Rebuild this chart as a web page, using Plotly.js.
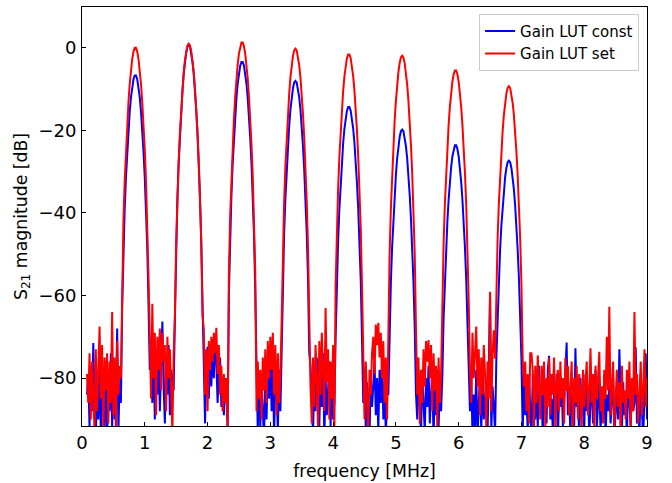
<!DOCTYPE html>
<html>
<head>
<meta charset="utf-8">
<script src="https://cdn.plot.ly/plotly-3.0.1.min.js"></script>
<style>html,body{margin:0;padding:0;background:#fff;}#chart{width:672px;height:483px;}</style>
</head>
<body>
<div id="chart"></div>
<script>
// Frequency sampling grid (MHz)
const freqStart = 0.08;
const freqStep = 0.02;

// ---- Gain LUT const (blue), segment by segment ----
const blueA = [-84,-79,-92,-77,-88,-71.5,-86,-95,-80,-90,-75,-94,-82,-78,-92,-76,-95,-80,-88,-74,-92,-78,-90,-84,-68,-93,-80,-86];
const blueP1 = [-62.6,-48.6,-39.1,-31.4,-25.2,-19.9,-15.5,-12.0,-9.4,-7.6,-6.7,-6.7,-7.6,-9.4,-12.0,-15.5,-19.9,-25.2,-31.4,-39.1,-48.6,-62.6];
const blueB = [-78,-72,-86,-74,-90,-79,-84,-73,-88,-77,-66.3,-82,-91,-75,-84,-72,-89,-78,-80,-83];
const blueP2 = [-65.3,-47.3,-36.3,-27.8,-20.9,-15.1,-10.3,-6.3,-3.3,-1.1,0.3,0.7,0.3,-1.1,-3.3,-6.3,-10.3,-15.1,-20.9,-27.8,-36.3,-47.3,-65.3];
const blueC = [-80,-91,-77,-72.4,-85,-74,-82,-73,-80,-72,-76,-86,-78,-75,-87,-82,-89,-80,-84,-92];
const blueP3 = [-59.3,-45.3,-35.8,-28.1,-21.9,-16.6,-12.2,-8.7,-6.1,-4.3,-3.4,-3.4,-4.3,-6.1,-8.7,-12.2,-16.6,-21.9,-28.1,-35.8,-45.3,-59.3];
const blueD = [-82,-93,-79,-92,-81,-87,-95,-78,-90,-76,-85,-74,-88,-77,-94,-80,-83,-93,-78,-88];
const blueP4 = [-74.0,-56.0,-45.0,-36.5,-29.6,-23.8,-19.0,-15.0,-12.0,-9.8,-8.4,-8.0,-8.4,-9.8,-12.0,-15.0,-19.0,-23.8,-29.6,-36.5,-45.0,-56.0,-74.0];
const blueE = [-77,-85,-94,-79,-88,-75,-83,-92,-78,-87,-74,-95,-80,-89,-83,-76,-92,-79,-90,-86];
const blueP5 = [-70.2,-56.2,-46.7,-39.0,-32.8,-27.5,-23.1,-19.6,-17.0,-15.2,-14.3,-14.3,-15.2,-17.0,-19.6,-23.1,-27.5,-32.8,-39.0,-46.7,-56.2,-70.2];
const blueF = [-86,-78,-92,-81,-88,-95,-79,-87,-82,-76,-89,-80,-93,-78,-86,-75,-90,-81,-94,-84];
const blueP6 = [-83.9,-67.8,-56.8,-48.3,-41.4,-35.6,-30.8,-26.8,-23.8,-21.6,-20.2,-19.8,-20.2,-21.6,-23.8,-26.8,-30.8,-35.6,-41.4,-48.3,-56.8,-67.8,-83.9];
const blueG = [-90,-82,-86,-94,-79,-88,-93,-80,-87,-77,-91,-84,-79,-95,-81,-89,-78,-92,-83,-88];
const blueP7 = [-79.5,-65.5,-56.0,-48.3,-42.1,-36.8,-32.4,-28.9,-26.3,-24.5,-23.6,-23.6,-24.5,-26.3,-28.9,-32.4,-36.8,-42.1,-48.3,-56.0,-65.5,-79.5];
const blueH = [-88,-79,-94,-84,-92,-78,-95,-86,-80,-93,-77,-90,-85,-81,-94,-79,-59.5,-93,-82,-87];
const blueP8 = [-93.3,-75.3,-64.3,-55.8,-48.9,-43.1,-38.3,-34.3,-31.3,-29.1,-27.7,-27.3,-27.7,-29.1,-31.3,-34.3,-38.3,-43.1,-48.9,-55.8,-64.3,-75.3,-93.3];
const blueI = [
  -78,-89,-84,-93,-80,-87,-95,-79,-86,-90,
  -81,-92,-77,-88,-84,-94,-80,-86,-91,-78,
  -74.6,-90,-85,-93,-82,-88,-79,-95,-84,-87,
  -80,-92,-86,-78,-71.4,-89,-83,-94,-81,-88,
  -92,-72.8,-87,-83,-95,-80,-89,-85,-93,-79,
  -88,-82,-94,-86,-80,-91,-84,-78,-92,-87,
  -81,-93,-85,-89,-79,-95,-84,-88,-82,-91,
  -86,-80,-94,-88,-83,-90,-73,-85,-93,-81,
  -89,-84,-95,-79,-87,-92,-82,-88,-86,-72.5,
  -91,-85,-94,-80,-88,-95,-83,-74,-90];

// ---- Gain LUT set (red), segment by segment ----
const redA = [-79,-86,-74,-90,-76,-84,-93,-73,-88,-78,-67.5,-85,-72,-94,-75,-83,-74,-91,-76,-86,-64,-89,-75,-93,-71,-84,-77,-80];
const redP1 = [-55.9,-41.9,-32.4,-24.7,-18.5,-13.2,-8.8,-5.3,-2.7,-0.9,0,0,-0.9,-2.7,-5.3,-8.8,-13.2,-18.5,-24.7,-32.4,-41.9,-55.9];
const redB = [-70,-85,-62,-80,-69,-89,-70,-78,-68,-83,-69,-76,-72,-88,-70,-80,-73,-86,-93,-74];
const redP2 = [-65,-47,-36,-27.5,-20.6,-14.8,-10,-6,-3,-0.8,0.6,1.0,0.6,-0.8,-3,-6,-10,-14.8,-20.6,-27.5,-36,-47,-65];
const redC = [-68,-84,-73,-88,-71,-78,-70,-76,-69,-74,-67.8,-79,-72,-84,-77,-88,-79,-86,-80,-93];
const redP3 = [-54.6,-40.6,-31.1,-23.4,-17.2,-11.9,-7.5,-4.0,-1.4,0.4,1.3,1.3,0.4,-1.4,-4.0,-7.5,-11.9,-17.2,-23.4,-31.1,-40.6,-54.6];
const redD = [-88,-76,-85,-78,-90,-75,-83,-73,-86,-71,-80,-70,-78,-69,-84,-72,-89,-74,-86,-79];
const redP4 = [-66.2,-48.2,-37.2,-28.7,-21.8,-16.0,-11.2,-7.2,-4.2,-2.0,-0.6,-0.2,-0.6,-2.0,-4.2,-7.2,-11.2,-16.0,-21.8,-28.7,-37.2,-48.2,-66.2];
const redE = [-82,-91,-75,-87,-72,-80,-92,-71,-84,-69,-78,-88,-63,-81,-73,-90,-76,-85,-72,-93];
const redP5 = [-57.5,-43.5,-34.0,-26.3,-20.1,-14.8,-10.4,-6.9,-4.3,-2.5,-1.6,-1.6,-2.5,-4.3,-6.9,-10.4,-14.8,-20.1,-26.3,-34.0,-43.5,-57.5];
const redF = [-80,-90,-76,-86,-93,-78,-84,-74,-70,-79,-67,-72,-66.6,-75,-69,-80,-71,-86,-75,-90];
const redP6 = [-67.9,-49.9,-38.9,-30.4,-23.5,-17.7,-12.9,-8.9,-5.9,-3.7,-2.3,-1.9,-2.3,-3.7,-5.9,-8.9,-12.9,-17.7,-23.5,-30.4,-38.9,-49.9,-67.9];
const redG = [-84,-75,-91,-78,-86,-73,-82,-71,-76,-70.8,-80,-72,-88,-74,-83,-77,-92,-75,-86,-79];
const redP7 = [-61.4,-47.4,-37.9,-30.2,-24.0,-18.7,-14.3,-10.8,-8.2,-6.4,-5.5,-5.5,-6.4,-8.2,-10.8,-14.3,-18.7,-24.0,-30.2,-37.9,-47.4,-61.4];
const redH = [-78,-86,-69,-80,-74,-67.5,-82,-73,-89,-75,-84,-72,-79,-92,-76,-85,-59.1,-88,-74,-68.4];
const redP8 = [-75.3,-57.3,-46.3,-37.8,-30.9,-25.1,-20.3,-16.3,-13.3,-11.1,-9.7,-9.3,-9.7,-11.1,-13.3,-16.3,-20.3,-25.1,-30.9,-37.8,-46.3,-57.3,-75.3];
const redI = [
  -82,-76,-88,-79,-91,-74,-74,-78,-93,-77,
  -86,-74.5,-83,-90,-77,-84,-76,-92,-80,-87,
  -75,-89,-79,-84,-75,-93,-81,-78,-88,-76,
  -85,-80,-91,-75,-83,-77,-89,-82,-76,-94,
  -80,-86,-77,-90,-79,-84,-92,-78,-87,-81,
  -76,-89,-83,-72.8,-86,-79,-93,-77,-85,-80,
  -73.6,-88,-82,-91,-78,-85,-70,-83,-62.7,-89,
  -80,-76,-92,-84,-78,-87,-81,-94,-77,-86,
  -83,-90,-78,-85,-76,-92,-80,-88,-64,-84,
  -79,-91,-82,-76,-89,-83,-73,-87,-80];

const blueY = [].concat(blueA,blueP1,blueB,blueP2,blueC,blueP3,blueD,blueP4,blueE,blueP5,blueF,blueP6,blueG,blueP7,blueH,blueP8,blueI);
const redY = [].concat(redA,redP1,redB,redP2,redC,redP3,redD,redP4,redE,redP5,redF,redP6,redG,redP7,redH,redP8,redI);
const freqBlue = blueY.map((_, i) => +(freqStart + i * freqStep).toFixed(3));
const freqRed = redY.map((_, i) => +(freqStart + i * freqStep).toFixed(3));

const seriesNames = ['Gain LUT const', 'Gain LUT set'];
const xTicks = [0,1,2,3,4,5,6,7,8,9];
const yTicks = [0,-20,-40,-60,-80];

const font = 'DejaVu Sans, sans-serif';
const traces = [
  {x: freqBlue, y: blueY, type: 'scatter', mode: 'lines', name: seriesNames[0],
   line: {color: '#0000ff', width: 2}},
  {x: freqRed, y: redY, type: 'scatter', mode: 'lines', name: seriesNames[1],
   line: {color: '#ff0000', width: 2}}
];
const axisCommon = {
  showline: true, linecolor: '#000', linewidth: 1, mirror: true,
  ticks: 'inside', ticklen: 4, tickwidth: 1, tickcolor: '#000',
  showgrid: false, zeroline: false,
  tickfont: {family: font, size: 18, color: '#000'}
};
const layout = {
  width: 672, height: 483,
  margin: {l: 82, r: 25, t: 7, b: 57},
  paper_bgcolor: '#fff', plot_bgcolor: '#fff',
  font: {family: font, color: '#000'},
  showlegend: true,
  legend: {x: 0.986, xanchor: 'right', y: 0.984, yanchor: 'top',
           bgcolor: 'rgba(255,255,255,0.8)', bordercolor: '#cccccc', borderwidth: 1,
           font: {family: font, size: 15, color: '#000'}},
  xaxis: Object.assign({}, axisCommon, {
    range: [0, 9], tickvals: xTicks, ticktext: xTicks.map(String), ticklabelstandoff: 0,
    title: {text: 'frequency [MHz]', font: {family: font, size: 17.3, color: '#000'}, standoff: 13}
  }),
  yaxis: Object.assign({}, axisCommon, {
    range: [-91.6, 9.9], tickvals: yTicks, ticklabelstandoff: 1,
    title: {text: 'S<sub>21</sub> magnitude [dB]', font: {family: font, size: 17.3, color: '#000'}, standoff: 6}
  })
};
Plotly.newPlot('chart', traces, layout, {displayModeBar: false, staticPlot: true});
</script>
</body>
</html>
